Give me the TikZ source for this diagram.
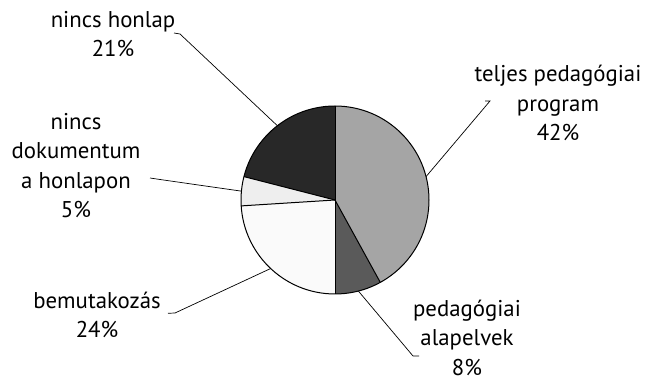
\documentclass[tikz,border=0pt]{standalone}
\usepackage{fontspec}
\setmainfont{PT Sans}
\begin{document}
\begin{tikzpicture}[x=1pt,y=1pt,
  slice/.style={draw=black,line width=1pt,line join=round},
  leader/.style={draw=black,line width=0.7pt},
  lbl/.style={align=center,inner sep=0pt,font=\fontsize{22.8}{29.5}\selectfont}]
\useasboundingbox (0,0) rectangle (646,380);
\def\R{94}
\coordinate (c) at (335,180);
% pie slices, clockwise from the top
\fill[fill={rgb,255:red,165;green,165;blue,165}] (c) -- ++(90:\R) arc[start angle=90,end angle=-61.2,radius=\R] -- cycle;
\fill[fill={rgb,255:red,90;green,90;blue,90}] (c) -- ++(-61.2:\R) arc[start angle=-61.2,end angle=-90,radius=\R] -- cycle;
\fill[fill={rgb,255:red,250;green,250;blue,250}] (c) -- ++(-90:\R) arc[start angle=-90,end angle=-176.4,radius=\R] -- cycle;
\fill[fill={rgb,255:red,238;green,238;blue,238}] (c) -- ++(-176.4:\R) arc[start angle=-176.4,end angle=-194.4,radius=\R] -- cycle;
\fill[fill={rgb,255:red,40;green,40;blue,40}] (c) -- ++(-194.4:\R) arc[start angle=-194.4,end angle=-270,radius=\R] -- cycle;
\draw[slice] (c) circle[radius=\R];
\foreach \a in {90,-61.2,-90,-176.4,-194.4} \draw[slice] (c) -- ++(\a:\R);
% slice mid points on the rim
\path (c) ++(14.4:\R) coordinate (pA);
\path (c) ++(-75.6:\R) coordinate (pB);
\path (c) ++(-133.2:\R) coordinate (pC);
\path (c) ++(174.6:\R) coordinate (pD);
\path (c) ++(127.8:\R) coordinate (pE);
% labels
\node[lbl] (lA) at (558,277) {teljes pedagógiai\\program\\42\%};
\node[lbl] (lB) at (467,42.5) {pedagógiai\\alapelvek\\8\%};
\node[lbl] (lC) at (97,65) {bemutakozás\\24\%};
\node[lbl] (lD) at (76,214.5) {nincs\\dokumentum\\a honlapon\\5\%};
\node[lbl] (lE) at (113,346) {nincs honlap\\21\%};
% leader lines
\coordinate (tA1) at (485,279); \coordinate (tA2) at (490,279);
\coordinate (tB1) at (413,24);  \coordinate (tB2) at (419,24);
\coordinate (tC1) at (168,66.7);\coordinate (tC2) at (175,67);
\coordinate (tD1) at (150,202); \coordinate (tD2) at (160,200.5);
\coordinate (tE1) at (174,347); \coordinate (tE2) at (180,346);
\draw[leader] (tA1) -- (tA2) -- (pA);
\draw[leader] (pB) -- (tB1) -- (tB2);
\draw[leader] (tC1) -- (tC2) -- (pC);
\draw[leader] (tD1) -- (tD2) -- (pD);
\draw[leader] (tE1) -- (tE2) -- (pE);
\end{tikzpicture}
\end{document}
